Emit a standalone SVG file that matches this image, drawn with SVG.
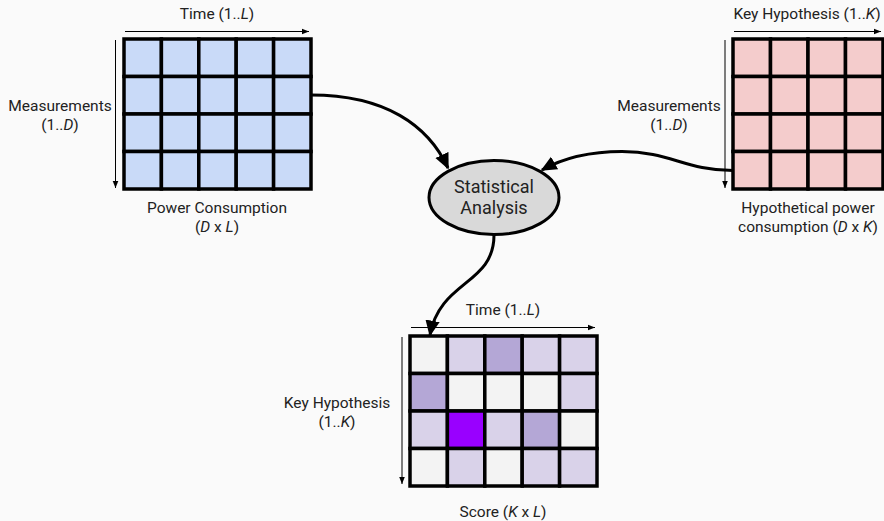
<svg xmlns="http://www.w3.org/2000/svg" width="884" height="521" viewBox="0 0 884 521">
<defs>
<style>
text{font-family:Roboto,"Liberation Sans",sans-serif;font-size:15.5px;fill:#222;text-anchor:middle}
.big{font-size:18px}
.grid{stroke:#000;stroke-width:3.5}
.axis{stroke:#000;stroke-width:1;fill:none}
.conn{stroke:#000;stroke-width:3;fill:none}
.b{fill:#c9daf8}.r{fill:#f4cccc}.g{fill:#f3f3f3}.l{fill:#d9d2e9}.m{fill:#b4a7d6}.p{fill:#9900ff}
</style>
<marker id="sa" viewBox="0 0 10 10" refX="10" refY="5" markerWidth="7" markerHeight="7" markerUnits="userSpaceOnUse" orient="auto"><path d="M0,1 L10,5 L0,9 z" fill="#000"/></marker>
<marker id="ba" viewBox="0 0 10 10" refX="9" refY="5" markerWidth="16" markerHeight="16" markerUnits="userSpaceOnUse" orient="auto"><path d="M0,0.5 L10,5 L0,9.5 z" fill="#000"/></marker>
</defs>
<rect width="884" height="521" fill="#fafafa"/>

<g id="power-consumption">
<g class="grid">
<rect class="b" x="124" y="39" width="37.4" height="37.5"/><rect class="b" x="161.4" y="39" width="37.4" height="37.5"/><rect class="b" x="198.8" y="39" width="37.4" height="37.5"/><rect class="b" x="236.2" y="39" width="37.4" height="37.5"/><rect class="b" x="273.6" y="39" width="37.4" height="37.5"/>
<rect class="b" x="124" y="76.5" width="37.4" height="37.5"/><rect class="b" x="161.4" y="76.5" width="37.4" height="37.5"/><rect class="b" x="198.8" y="76.5" width="37.4" height="37.5"/><rect class="b" x="236.2" y="76.5" width="37.4" height="37.5"/><rect class="b" x="273.6" y="76.5" width="37.4" height="37.5"/>
<rect class="b" x="124" y="114" width="37.4" height="37.5"/><rect class="b" x="161.4" y="114" width="37.4" height="37.5"/><rect class="b" x="198.8" y="114" width="37.4" height="37.5"/><rect class="b" x="236.2" y="114" width="37.4" height="37.5"/><rect class="b" x="273.6" y="114" width="37.4" height="37.5"/>
<rect class="b" x="124" y="151.5" width="37.4" height="37.5"/><rect class="b" x="161.4" y="151.5" width="37.4" height="37.5"/><rect class="b" x="198.8" y="151.5" width="37.4" height="37.5"/><rect class="b" x="236.2" y="151.5" width="37.4" height="37.5"/><rect class="b" x="273.6" y="151.5" width="37.4" height="37.5"/>
</g>
<line class="axis" x1="125" y1="31.5" x2="309" y2="31.5" marker-end="url(#sa)"/>
<line class="axis" x1="115.5" y1="40" x2="115.5" y2="188" marker-end="url(#sa)"/>
<text x="217" y="19">Time (1..<tspan font-style="italic">L</tspan>)</text>
<text x="60" y="111">Measurements</text>
<text x="60" y="130">(1..<tspan font-style="italic">D</tspan>)</text>
<text x="217" y="213">Power Consumption</text>
<text x="217" y="232">(<tspan font-style="italic">D</tspan> x <tspan font-style="italic">L</tspan>)</text>
</g>

<g id="hypothetical-power">
<g class="grid">
<rect class="r" x="733" y="39" width="37.5" height="37.5"/><rect class="r" x="770.5" y="39" width="37.5" height="37.5"/><rect class="r" x="808" y="39" width="37.5" height="37.5"/><rect class="r" x="845.5" y="39" width="37.5" height="37.5"/>
<rect class="r" x="733" y="76.5" width="37.5" height="37.5"/><rect class="r" x="770.5" y="76.5" width="37.5" height="37.5"/><rect class="r" x="808" y="76.5" width="37.5" height="37.5"/><rect class="r" x="845.5" y="76.5" width="37.5" height="37.5"/>
<rect class="r" x="733" y="114" width="37.5" height="37.5"/><rect class="r" x="770.5" y="114" width="37.5" height="37.5"/><rect class="r" x="808" y="114" width="37.5" height="37.5"/><rect class="r" x="845.5" y="114" width="37.5" height="37.5"/>
<rect class="r" x="733" y="151.5" width="37.5" height="37.5"/><rect class="r" x="770.5" y="151.5" width="37.5" height="37.5"/><rect class="r" x="808" y="151.5" width="37.5" height="37.5"/><rect class="r" x="845.5" y="151.5" width="37.5" height="37.5"/>
</g>
<line class="axis" x1="734" y1="31.5" x2="881" y2="31.5" marker-end="url(#sa)"/>
<line class="axis" x1="725" y1="40" x2="725" y2="188" marker-end="url(#sa)"/>
<text x="807" y="19">Key Hypothesis (1..<tspan font-style="italic">K</tspan>)</text>
<text x="669" y="111">Measurements</text>
<text x="669" y="130">(1..<tspan font-style="italic">D</tspan>)</text>
<text x="808" y="213">Hypothetical power</text>
<text x="808" y="232">consumption (<tspan font-style="italic">D</tspan> x <tspan font-style="italic">K</tspan>)</text>
</g>

<g id="statistical-analysis">
<ellipse cx="494" cy="197.5" rx="65" ry="37" fill="#d9d9d9" stroke="#000" stroke-width="3"/>
<text class="big" x="494" y="193">Statistical</text>
<text class="big" x="494" y="214">Analysis</text>
</g>

<g id="score">
<g class="grid">
<rect class="g" x="410" y="336" width="37.4" height="37.5"/><rect class="l" x="447.4" y="336" width="37.4" height="37.5"/><rect class="m" x="484.8" y="336" width="37.4" height="37.5"/><rect class="l" x="522.2" y="336" width="37.4" height="37.5"/><rect class="l" x="559.6" y="336" width="37.4" height="37.5"/>
<rect class="m" x="410" y="373.5" width="37.4" height="37.5"/><rect class="g" x="447.4" y="373.5" width="37.4" height="37.5"/><rect class="g" x="484.8" y="373.5" width="37.4" height="37.5"/><rect class="g" x="522.2" y="373.5" width="37.4" height="37.5"/><rect class="l" x="559.6" y="373.5" width="37.4" height="37.5"/>
<rect class="l" x="410" y="411" width="37.4" height="37.5"/><rect class="p" x="447.4" y="411" width="37.4" height="37.5"/><rect class="l" x="484.8" y="411" width="37.4" height="37.5"/><rect class="m" x="522.2" y="411" width="37.4" height="37.5"/><rect class="g" x="559.6" y="411" width="37.4" height="37.5"/>
<rect class="g" x="410" y="448.5" width="37.4" height="37.5"/><rect class="l" x="447.4" y="448.5" width="37.4" height="37.5"/><rect class="g" x="484.8" y="448.5" width="37.4" height="37.5"/><rect class="l" x="522.2" y="448.5" width="37.4" height="37.5"/><rect class="l" x="559.6" y="448.5" width="37.4" height="37.5"/>
</g>
<line class="axis" x1="411" y1="327.5" x2="595" y2="327.5" marker-end="url(#sa)"/>
<line class="axis" x1="402" y1="337" x2="402" y2="484" marker-end="url(#sa)"/>
<text x="503" y="315">Time (1..<tspan font-style="italic">L</tspan>)</text>
<text x="337" y="408">Key Hypothesis</text>
<text x="337" y="427">(1..<tspan font-style="italic">K</tspan>)</text>
<text x="503" y="517">Score (<tspan font-style="italic">K</tspan> x <tspan font-style="italic">L</tspan>)</text>
</g>

<g id="connectors">
<path class="conn" d="M311,95 C385,95 428,125 448,168" marker-end="url(#ba)"/>
<path class="conn" d="M733,170.5 C685,170.5 670,151.5 622,151.5 C590,151.5 565,157 542,170" marker-end="url(#ba)"/>
<path class="conn" d="M494,235 C494,285 440,280 430,335" marker-end="url(#ba)"/>
</g>
</svg>
